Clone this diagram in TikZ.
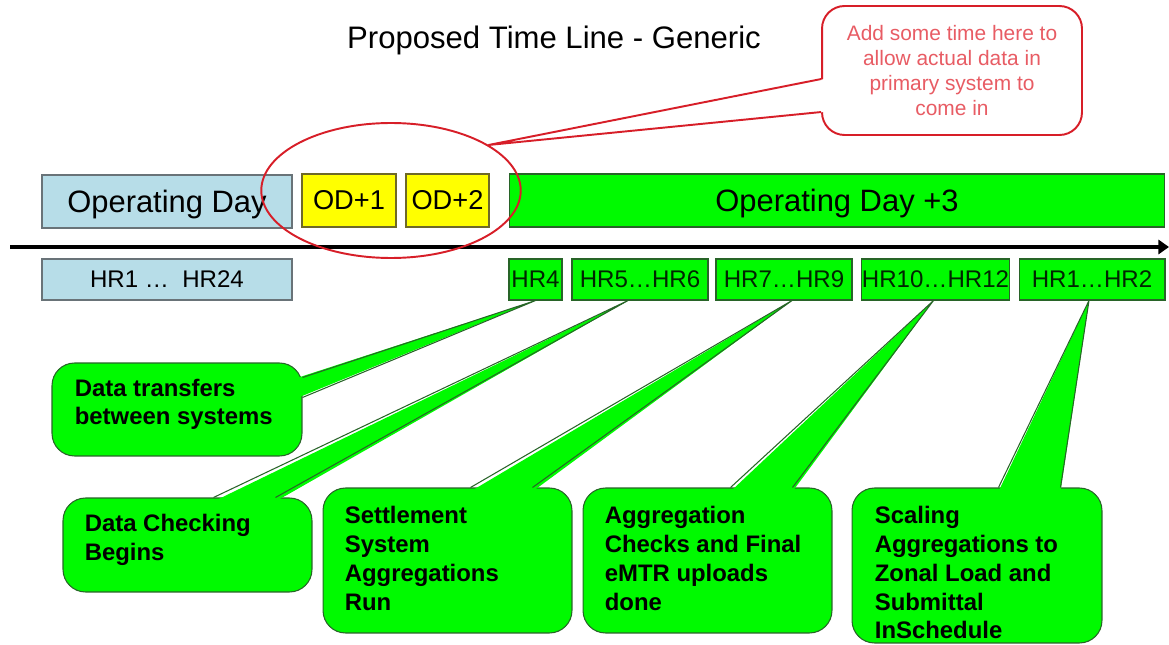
\documentclass[tikz,border=0pt]{standalone}
\usepackage{fontspec}
\setmainfont{Liberation Sans}
\usepackage{xcolor}
\usetikzlibrary{arrows.meta,calc,shapes.geometric}
\definecolor{dayblue}{RGB}{183,221,232}
\definecolor{dayline}{RGB}{105,115,120}
\definecolor{odyellow}{RGB}{255,255,0}
\definecolor{odline}{RGB}{110,105,40}
\definecolor{odgreen}{RGB}{0,250,0}
\definecolor{greenline}{RGB}{40,100,40}
\definecolor{notered}{RGB}{215,30,40}
\definecolor{notetext}{RGB}{232,92,100}
\tikzset{
	daybox/.style={draw=dayline, line width=0.6pt, fill=dayblue, inner sep=0pt},
	odbox/.style={draw=odline, line width=0.6pt, fill=odyellow, inner sep=0pt, minimum height=1.06cm, font=\fontsize{15.5}{18}\selectfont},
	greenbox/.style={draw=greenline, line width=0.6pt, fill=odgreen, inner sep=0pt},
	hrbox/.style={greenbox, minimum height=0.82cm, font=\fontsize{13.7}{16}\selectfont, text=black!85!green},
	callbox/.style={draw=greenline, line width=0.6pt, fill=odgreen, rounded corners=0.45cm, inner sep=0pt},
	calltext/.style={anchor=north west, inner sep=0pt, align=left, font=\fontsize{13.6}{16.4}\selectfont\bfseries},
	tailfill/.style={fill=odgreen, draw=none},
	tailline/.style={draw=greenline, line width=0.6pt, line join=round}
}

\begin{document}
\begin{tikzpicture}[x=0.02cm, y=-0.02cm]
    \useasboundingbox (0,0) rectangle (1169,645);
    \node [text depth=0pt, font=\fontsize{17.7}{21}\selectfont] (title) at (554,37) {Proposed Time Line - Generic};

    \node [draw=notered, line width=1.1pt, fill=white, rounded corners=0.45cm, minimum width=5.2cm, minimum height=2.58cm] (note) at (952,70.5) {};
    \node [text=notetext, align=center, font=\fontsize{11.9}{14.2}\selectfont] (notetxt) at (note.center) {Add some time here to\\allow actual data in\\primary system to\\come in};

    \node [daybox, minimum width=5cm, minimum height=1.06cm, text depth=0pt, font=\fontsize{17.6}{21}\selectfont] (opday) at (167,201.5) {Operating Day};
    \node [odbox, minimum width=1.88cm] (od1) at (349,200.5) {OD+1};
    \node [odbox, minimum width=1.66cm] (od2) at (447.5,200.5) {OD+2};
    \node [greenbox, minimum width=13.12cm, minimum height=1.06cm, text depth=0pt, font=\fontsize{17.6}{21}\selectfont] (od3) at (837,200.5) {Operating Day +3};

    \coordinate (tstart) at (10,247);
    \coordinate (tend) at (1169,247);
    \draw [-{Triangle[length=6pt,width=8pt]}, line width=2.2pt] (tstart) -- (tend);

    \node [daybox, minimum width=5cm, minimum height=0.82cm, font=\fontsize{13.7}{16}\selectfont] (hrday) at (167,279.5) {HR1 …~~HR24};
    \node [hrbox, minimum width=1.06cm] (hr4) at (535.5,279.5) {HR4};
    \node [hrbox, minimum width=2.72cm] (hr56) at (640,279.5) {HR5…HR6};
    \node [hrbox, minimum width=2.72cm] (hr79) at (784,279.5) {HR7…HR9};
    \node [hrbox, minimum width=2.94cm] (hr1012) at (935.5,279.5) {HR10…HR12};
    \node [hrbox, minimum width=2.92cm] (hr12) at (1092,279.5) {HR1…HR2};

    \node [draw=notered, line width=1.1pt, ellipse, minimum width=5.19cm, minimum height=2.7cm, inner sep=0pt] (ring) at (391,190.5) {};
    \fill [white] ($(note.north west)+(3,74)$) -- (ring.25) -- ($(note.north west)+(3,107)$) -- cycle;
    \draw [notered, line width=1.1pt, line join=round] ($(note.north west)+(0,74)$) -- (ring.25) -- ($(note.north west)+(0,107)$);

    \node [callbox, minimum width=5cm, minimum height=1.86cm] (cb1) at (177,409.5) {};
    \fill [tailfill] ($(cb1.north east)+(-4,15)$) -- (hr4.south) -- ($(cb1.north east)+(-4,35)$) -- cycle;
    \draw [tailline] ($(cb1.north east)+(0,15)$) -- (hr4.south) -- ($(cb1.north east)+(0,35)$);
    \node [calltext] (t1) at ($(cb1.north west)+(23,16)$) {Data transfers\\between systems};

    \node [callbox, minimum width=4.98cm, minimum height=1.88cm] (cb2) at (187.5,545) {};
    \fill [tailfill] ($(cb2.north west)+(151,4)$) -- ($(hr56.south)+(-12,0)$) -- ($(cb2.north west)+(213,4)$) -- cycle;
    \draw [tailline] ($(cb2.north west)+(151,0)$) -- ($(hr56.south)+(-12,0)$) -- ($(cb2.north west)+(213,0)$);
    \node [calltext] (t2) at ($(cb2.north west)+(22,16.5)$) {Data Checking\\Begins};

    \node [callbox, minimum width=4.98cm, minimum height=2.9cm] (cb3) at (447.5,560.5) {};
    \fill [tailfill] ($(cb3.north west)+(148,4)$) -- ($(hr79.south)+(8,0)$) -- ($(cb3.north west)+(210,4)$) -- cycle;
    \draw [tailline] ($(cb3.north west)+(148,0)$) -- ($(hr79.south)+(8,0)$) -- ($(cb3.north west)+(210,0)$);
    \node [calltext] (t3) at ($(cb3.north west)+(22,18.5)$) {Settlement\\System\\Aggregations\\Run};

    \node [callbox, minimum width=4.98cm, minimum height=2.9cm] (cb4) at (707.5,560.5) {};
    \fill [tailfill] ($(cb4.north west)+(148,4)$) -- ($(hr1012.south)+(-2,0)$) -- ($(cb4.north west)+(210,4)$) -- cycle;
    \draw [tailline] ($(cb4.north west)+(148,0)$) -- ($(hr1012.south)+(-2,0)$) -- ($(cb4.north west)+(210,0)$);
    \node [calltext] (t4) at ($(cb4.north west)+(22,18.5)$) {Aggregation\\Checks and Final\\eMTR uploads\\done};

    \node [callbox, minimum width=5cm, minimum height=3.1cm] (cb5) at (977,565.5) {};
    \fill [tailfill] ($(cb5.north west)+(147,4)$) -- ($(hr12.south)+(-3,0)$) -- ($(cb5.north west)+(209,4)$) -- cycle;
    \draw [tailline] ($(cb5.north west)+(147,0)$) -- ($(hr12.south)+(-3,0)$) -- ($(cb5.north west)+(209,0)$);
    \node [calltext] (t5) at ($(cb5.north west)+(23,18.5)$) {Scaling\\Aggregations to\\Zonal Load and\\Submittal\\InSchedule};
\end{tikzpicture}
\end{document}
